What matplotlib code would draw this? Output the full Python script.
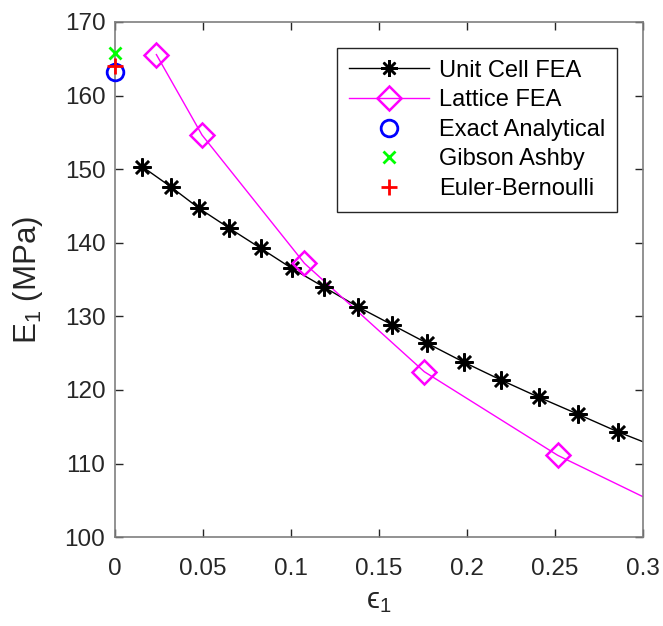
import matplotlib
matplotlib.use("Agg")
import matplotlib.pyplot as plt

plt.rcParams["font.family"] = ["Liberation Sans", "DejaVu Sans"]
plt.rcParams["mathtext.fontset"] = "custom"
plt.rcParams["mathtext.rm"] = "Liberation Sans"
plt.rcParams["mathtext.it"] = "Liberation Sans:italic"

# Unit cell FEA (markers) and the line that runs on to eps = 0.3
unit_eps = [0.0155, 0.0316, 0.0477, 0.0650, 0.0828, 0.1004, 0.1189, 0.1379,
            0.1576, 0.1774, 0.1983, 0.2193, 0.2409, 0.2632, 0.2856]
unit_E = [150.33, 147.61, 144.68, 141.96, 139.24, 136.52, 133.94, 131.30,
          128.82, 126.33, 123.75, 121.34, 118.99, 116.68, 114.31]
unit_line_eps = unit_eps + [0.30]
unit_line_E = unit_E + [112.95]

# Lattice FEA
lat_eps = [0.0235, 0.0494, 0.1076, 0.1757, 0.2515]
lat_E = [165.56, 154.64, 137.20, 122.47, 111.11]
lat_line_eps = lat_eps + [0.30]
lat_line_E = lat_E + [105.48]

# single values at eps = 0
exact_E = 163.25
gibson_E = 165.75
euler_E = 164.02

GRAY = "#262626"


def main():
    fig = plt.figure(figsize=(6.63, 6.26), dpi=100)
    ax = fig.add_axes([0.1735, 0.142, 0.7965, 0.823])

    ax.plot(unit_line_eps, unit_line_E, color="k", lw=1.0, zorder=2)
    ax.plot(unit_eps, unit_E, ls="none", marker=(8, 2, 0), ms=13, mew=1.8,
            color="k", zorder=3)
    ax.plot(lat_line_eps, lat_line_E, color="#ff00ff", lw=1.0, zorder=2)
    ax.plot(lat_eps, lat_E, ls="none", marker="D", ms=12, mew=1.8,
            mfc="none", mec="#ff00ff", zorder=3)
    ax.plot([0], [exact_E], ls="none", marker="o", ms=12, mew=2,
            mfc="none", mec="#0000ff", clip_on=False, zorder=4)
    ax.plot([0], [gibson_E], ls="none", marker="x", ms=9, mew=2,
            color="#00ff00", clip_on=False, zorder=4)
    ax.plot([0], [euler_E], ls="none", marker="+", ms=12, mew=2,
            color="#ff0000", clip_on=False, zorder=5)

    # legend proxies so line + marker appear together
    h_unit, = ax.plot([], [], color="k", lw=1.0, marker=(8, 2, 0), ms=12, mew=1.8)
    h_lat, = ax.plot([], [], color="#ff00ff", lw=1.0, marker="D", ms=12,
                     mew=1.8, mfc="none")
    h_ex, = ax.plot([], [], ls="none", marker="o", ms=12, mew=2, mfc="none",
                    mec="#0000ff")
    h_gb, = ax.plot([], [], ls="none", marker="x", ms=9, mew=2, color="#00ff00")
    h_eb, = ax.plot([], [], ls="none", marker="+", ms=12, mew=2, color="#ff0000")
    leg = ax.legend([h_unit, h_lat, h_ex, h_gb, h_eb],
                    ["Unit Cell FEA", "Lattice FEA", "Exact Analytical",
                     "Gibson Ashby", "Euler-Bernoulli"],
                    loc="upper right", bbox_to_anchor=(0.950, 0.9495),
                    borderaxespad=0, fontsize=17, handlelength=3.4,
                    handletextpad=0.4, labelspacing=0.32, fancybox=False,
                    framealpha=1, edgecolor=GRAY, borderpad=0.5)
    leg.get_frame().set_linewidth(1.0)

    ax.set_xlim(0, 0.3)
    ax.set_ylim(100, 170)
    ax.set_xticks([0, 0.05, 0.1, 0.15, 0.2, 0.25, 0.3])
    ax.set_xticklabels(["0", "0.05", "0.1", "0.15", "0.2", "0.25", "0.3"])
    ax.set_yticks(range(100, 171, 10))
    ax.tick_params(direction="in", top=True, right=True, length=6,
                   width=1.0, labelsize=17.5, colors=GRAY, pad=7)
    ax.tick_params(axis="x", pad=15)
    for s in ax.spines.values():
        s.set_color("#7f7f7f")
        s.set_linewidth(1.2)

    ax.set_xlabel("\u03f5$_1$", fontsize=21, color=GRAY, labelpad=5)
    ax.set_ylabel(r"E$_1$ (MPa)", fontsize=22.5, color=GRAY, labelpad=14)

    fig.savefig("out.png", dpi=100)
    plt.close(fig)


if __name__ == "__main__":
    main()
